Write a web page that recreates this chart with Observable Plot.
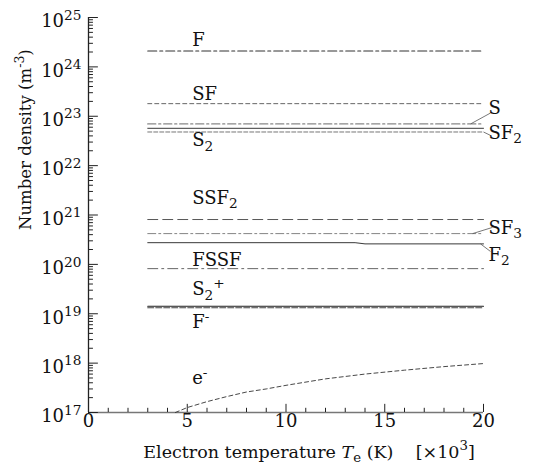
<!DOCTYPE html>
<html>
<head>
<meta charset="utf-8">
<script src="https://cdn.jsdelivr.net/npm/d3@7"></script>
<script src="https://cdn.jsdelivr.net/npm/@observablehq/plot@0.6"></script>
<style>
  html, body { margin: 0; padding: 0; background: #fff; }
  #chart svg { display: block; }
</style>
</head>
<body>
<div id="chart"></div>
<script>
const lineT = [3, 20];
const nF    = [2.1e24, 2.1e24];
const nSF   = [1.8e23, 1.8e23];
const nS    = [7.0e22, 7.0e22];
const nS2   = [5.7e22, 5.7e22];
const nSF2  = [4.8e22, 4.8e22];
const nSSF2 = [8.1e20, 8.1e20];
const nSF3  = [4.2e20, 4.2e20];
const F2T   = [3, 13.5, 14, 20];
const nF2   = [2.75e20, 2.75e20, 2.6e20, 2.6e20];
const nFSSF = [8.2e19, 8.2e19];
const nS2p  = [1.42e19, 1.42e19];
const nFm   = [1.32e19, 1.32e19];
const eT = [4.4, 5, 6, 7, 8, 9, 10, 12, 14, 16, 18, 20];
const eN = [1.0e17, 1.26e17, 1.66e17, 2.1e17, 2.6e17, 3.0e17, 3.55e17, 4.8e17, 6.0e17, 7.2e17, 8.5e17, 9.8e17];

const yDecades = [17, 18, 19, 20, 21, 22, 23, 24, 25];
const xMajor = [0, 5, 10, 15, 20];

const leftLabelT = 5.25;
const leftLabels = [
  {text: "F", n: 3.4e24},
  {text: "SF", n: 2.8e23},
  {text: "S_{2}", n: 3.2e22},
  {text: "SSF_{2}", n: 2.2e21},
  {text: "FSSF", n: 1.2e20},
  {text: "S_{2}^{+}", n: 3.1e19},
  {text: "F^{-}", n: 6.7e18},
  {text: "e^{-}", n: 4.9e17}
];
const rightLabelT = 20.25;
const rightLabels = [
  {text: "S", n: 1.44e23},
  {text: "SF_{2}", n: 4.5e22},
  {text: "SF_{3}", n: 5.4e20},
  {text: "F_{2}", n: 1.52e20}
];
const leaders = [
  {t1: 19.35, n1: 7.0e22, t2: 20.35, n2: 1.16e23},
  {t1: 20.0, n1: 4.8e22, t2: 20.35, n2: 4.1e22},
  {t1: 19.45, n1: 4.2e20, t2: 20.45, n2: 5.6e20},
  {t1: 19.85, n1: 2.6e20, t2: 20.35, n2: 1.83e20}
];

const series = [
  {name: "F", T: lineT, N: nF},
  {name: "SF", T: lineT, N: nSF},
  {name: "S", T: lineT, N: nS},
  {name: "S2", T: lineT, N: nS2},
  {name: "SF2", T: lineT, N: nSF2},
  {name: "SSF2", T: lineT, N: nSSF2},
  {name: "SF3", T: lineT, N: nSF3},
  {name: "F2", T: F2T, N: nF2},
  {name: "FSSF", T: lineT, N: nFSSF},
  {name: "S2+", T: lineT, N: nS2p},
  {name: "F-", T: lineT, N: nFm},
  {name: "e-", T: eT, N: eN}
];
const styleOf = {
  "F":    {stroke: "#333", dash: "9,3,3,3", w: 1.1},
  "SF":   {stroke: "#555", dash: "4,3", w: 0.9},
  "S":    {stroke: "#888", dash: "8,3,2,3", w: 1.4},
  "S2":   {stroke: "#222", dash: null, w: 0.9},
  "SF2":  {stroke: "#666", dash: "4,2", w: 0.9},
  "SSF2": {stroke: "#444", dash: "10,5", w: 0.9},
  "SF3":  {stroke: "#777", dash: "8,3,2,3", w: 0.9},
  "F2":   {stroke: "#222", dash: null, w: 0.9},
  "FSSF": {stroke: "#555", dash: "10,4,2,4", w: 0.9},
  "S2+":  {stroke: "#222", dash: null, w: 1.1},
  "F-":   {stroke: "#444", dash: "6,2", w: 1.1},
  "e-":   {stroke: "#333", dash: "4,3", w: 0.9}
};

const yMinor = [];
for (let e = 17; e < 25; e++) for (let k = 2; k <= 9; k++) yMinor.push(k * Math.pow(10, e));
const xMinor = d3.range(1, 20).filter(v => v % 5 !== 0);

const FONT = "DejaVu Serif";
const lineMarks = series.map(s => {
  const st = styleOf[s.name];
  const rows = s.T.map((t, i) => ({T: t, N: s.N[i]}));
  return Plot.line(rows, {x: "T", y: "N", stroke: st.stroke, strokeWidth: st.w,
    strokeDasharray: st.dash || undefined});
});

const Y0 = 1e17;
const txt = {fontFamily: FONT, fill: "#111"};
const chart = Plot.plot({
  width: 533, height: 470,
  marginLeft: 88, marginRight: 50, marginTop: 17, marginBottom: 58,
  style: {fontFamily: FONT, background: "#fff", color: "#111"},
  x: {domain: [0, 20], axis: null},
  y: {type: "log", domain: [1e17, 1e25], axis: null},
  marks: [
    Plot.ruleX([0], {y1: 1e17, y2: 1e25, stroke: "#222", strokeWidth: 1.3}),
    Plot.ruleY([1e17], {x1: 0, x2: 20, stroke: "#777", strokeWidth: 1.6}),
    Plot.ruleY(yDecades.map(e => Math.pow(10, e)), {x1: 0, x2: 0.5, stroke: "#222", strokeWidth: 1}),
    Plot.ruleY(yMinor, {x1: 0, x2: 0.25, stroke: "#222", strokeWidth: 1}),
    Plot.ruleX(xMajor, {y1: Y0, y2: Y0 * Math.pow(10, 0.165), stroke: "#222", strokeWidth: 1}),
    Plot.ruleX(xMinor, {y1: Y0, y2: Y0 * Math.pow(10, 0.085), stroke: "#222", strokeWidth: 1}),
    Plot.text(yDecades, {...txt, x: 0, y: e => Math.pow(10, e), text: e => "10^{" + e + "}",
      textAnchor: "end", dx: -7, dy: 4, fontSize: 18}),
    Plot.text(xMajor, {...txt, x: d => d, y: Y0, text: d => String(d), lineAnchor: "top",
      dy: 2, fontSize: 18}),
    ...lineMarks,
    Plot.link(leaders, {x1: "t1", y1: "n1", x2: "t2", y2: "n2", stroke: "#555", strokeWidth: 0.8}),
    Plot.text(leftLabels, {...txt, x: () => leftLabelT, y: "n", text: "text", textAnchor: "start",
      fontSize: 18}),
    Plot.text(rightLabels, {...txt, x: () => rightLabelT, y: "n", text: "text", textAnchor: "start",
      fontSize: 18}),
    Plot.text(["Electron temperature *T*_{e} (K)\u00a0\u00a0\u00a0\u00a0[×10^{3}]"], {
      ...txt, frameAnchor: "bottom", dx: 23, dy: 45, fontSize: 17.5}),
    Plot.text(["Number density (m^{-3})"], {
      ...txt, frameAnchor: "left", rotate: -90, dx: -63, dy: 15, fontSize: 16.5})
  ]
});

document.getElementById("chart").appendChild(chart);

const NS = "http://www.w3.org/2000/svg";
chart.querySelectorAll("text").forEach(t => {
  const s = t.textContent;
  if (!/[\^_*]/.test(s)) return;
  const fs = parseFloat(getComputedStyle(t).fontSize) || 18;
  while (t.firstChild) t.removeChild(t.firstChild);
  const re = /\^\{([^}]*)\}|_\{([^}]*)\}|\*([^*]*)\*|([^\^_*]+)/g;
  let m, shift = 0;
  while ((m = re.exec(s))) {
    const ts = document.createElementNS(NS, "tspan");
    let target = 0, size = null, italic = false, str;
    if (m[1] !== undefined) { target = -0.42 * fs; size = 0.76 * fs; str = m[1]; }
    else if (m[2] !== undefined) { target = 0.24 * fs; size = 0.76 * fs; str = m[2]; }
    else if (m[3] !== undefined) { italic = true; str = m[3]; }
    else { str = m[4]; }
    const d = target - shift;
    if (Math.abs(d) > 1e-6) ts.setAttribute("dy", d.toFixed(2));
    shift = target;
    if (size) ts.setAttribute("font-size", size.toFixed(1));
    if (italic) ts.setAttribute("font-style", "italic");
    ts.textContent = str;
    t.appendChild(ts);
  }
});
</script>
</body>
</html>
